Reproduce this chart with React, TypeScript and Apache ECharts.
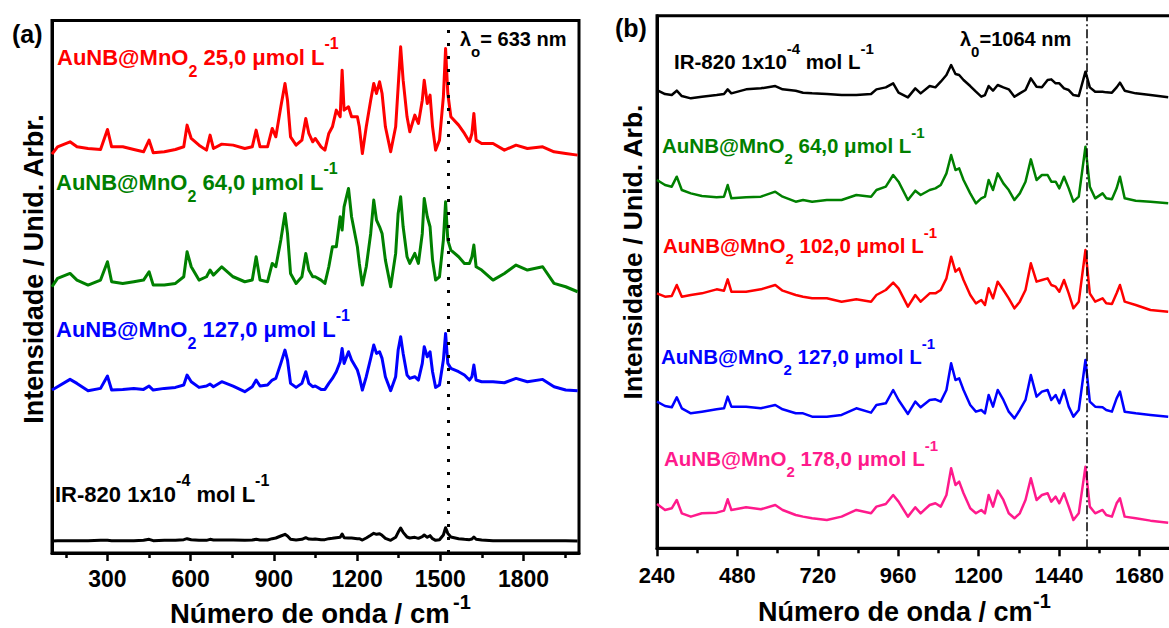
import { useEffect, useRef } from "react";
import * as echarts from "echarts";

// ---------- Panel (a): excitation 633 nm ----------
const WN_A = [100,120,165,190,230, 275,300,315,355,395, 430,450,465,505,545, 575,587,602,630,657, 670,682,712,753,795, 822,836,850,877,894, 907,925,940,949,960, 980,1001,1015,1026,1040, 1049,1070,1084,1098,1111, 1125,1139,1146,1153,1169, 1180,1201,1208,1219,1233, 1249,1260,1270,1281,1290, 1302,1321,1339,1348,1357, 1366,1380,1390,1408,1421, 1435,1442,1453,1463,1472, 1483,1497,1511,1519,1527, 1538,1566,1587,1605,1614, 1621,1629,1649,1690,1731, 1773,1814,1869,1910,1952, 1995];
const RED_A = [1197,1219,1234,1219,1214, 1211,1271,1219,1219,1211, 1204,1239,1201,1204,1211, 1219,1284,1244,1224,1209, 1254,1214,1227,1224,1214, 1219,1269,1219,1219,1274, 1249,1339,1409,1359,1249, 1224,1239,1304,1259,1234, 1244,1219,1209,1259,1279, 1329,1309,1449,1329,1339, 1309,1309,1279,1199,1279, 1359,1409,1379,1414,1379, 1279,1204,1279,1399,1519, 1419,1309,1264,1314,1289, 1359,1419,1349,1374,1279, 1209,1239,1369,1514,1379, 1309,1284,1259,1234,1259, 1319,1239,1229,1229,1209, 1224,1214,1219,1204,1199, 1194];
const GREEN_A = [799,824,839,819,804, 819,874,814,809,814, 819,844,804,804,809, 829,904,859,819,829, 849,834,859,829,814, 819,889,819,814,869, 859,939,1019,959,839, 809,829,899,849,829, 829,819,809,859,919, 919,1009,969,1039,1094, 1009,919,869,804,859, 959,1059,999,979,959, 879,799,899,1019,1069, 979,889,869,899,869, 959,1064,1009,979,879, 819,829,939,1054,939, 909,889,869,869,889, 924,859,849,819,839, 864,849,859,809,799, 784];
const BLUE_A = [489,499,521,509,487, 494,531,489,491,494, 491,501,489,494,497, 504,534,514,497,501, 507,499,514,501,484, 499,519,501,504,519, 524,569,609,579,509, 497,509,544,509,499, 501,491,491,509,524, 544,574,614,569,604, 579,549,529,489,529, 584,624,599,604,584, 529,487,529,609,649, 599,534,524,529,519, 569,619,589,604,544, 497,504,579,659,569, 554,544,534,519,529, 564,519,514,514,511, 524,514,521,499,489, 487];
const BLACK_A = [36,37,37,37,37, 38,38,37,37,37, 38,41,37,38,38, 40,43,40,38,38, 41,39,39,39,38, 39,41,39,39,43, 45,51,56,51,41, 39,41,46,42,41, 42,40,40,43,44, 46,47,57,46,45, 45,43,43,39,45, 53,59,56,58,53, 44,38,47,62,75, 62,48,45,47,44, 49,54,47,52,43, 38,40,54,76,59, 48,43,41,40,42, 48,41,39,37,37, 37,37,37,37,37, 36];
const MAJOR_A = [300, 600, 900, 1200, 1500, 1800];
const MINOR_A = [150, 450, 750, 1050, 1350, 1650, 1950];
const LAMBDA_LINE_A = 1527;

// ---------- Panel (b): excitation 1064 nm ----------
const WN_B = [240,264,284,299,314, 341,374,418,440,451, 462,506,550,593,615, 654,676,703,747,791, 835,879,895,923,945, 961,989,1011,1027,1054, 1071,1087,1104,1118,1131, 1142,1155,1175,1192,1208, 1219,1230,1243,1257,1274, 1290,1307,1323,1340,1356, 1373,1389,1406,1417,1430, 1441,1455,1469,1483,1499, 1519,1532,1548,1570,1581, 1598,1612,1622,1636,1669, 1713,1766];
const BLACK_B = [1375,1363,1360,1373,1357, 1350,1355,1360,1363,1377, 1365,1377,1380,1387,1377, 1373,1367,1365,1363,1360, 1360,1363,1377,1383,1395, 1367,1353,1380,1365,1387, 1383,1400,1420,1450,1423, 1420,1405,1387,1370,1355, 1360,1387,1373,1390,1383, 1377,1355,1365,1375,1410, 1385,1383,1405,1407,1395, 1395,1380,1375,1360,1357, 1430,1383,1370,1370,1368, 1367,1383,1397,1373,1365, 1360,1353];
const GREEN_B = [1105,1090,1085,1115,1075, 1065,1057,1053,1055,1090, 1050,1053,1055,1070,1055, 1040,1045,1040,1045,1045, 1060,1055,1075,1085,1120, 1100,1045,1073,1060,1075, 1080,1090,1125,1180,1135, 1140,1105,1065,1035,1050, 1055,1105,1075,1125,1095, 1075,1045,1065,1100,1167, 1105,1120,1120,1100,1100, 1080,1115,1080,1040,1055, 1205,1085,1050,1065,1050, 1047,1080,1115,1050,1043, 1040,1035];
const RED_B = [765,755,757,790,755, 760,765,777,773,807, 770,770,777,790,773, 760,755,750,750,740, 747,740,760,775,797, 780,725,760,740,765, 765,775,810,875,830, 840,805,760,735,745, 730,780,750,800,775, 750,720,740,775,855, 800,805,810,790,785, 770,805,765,720,740, 895,765,740,750,735, 733,765,790,740,730, 715,710];
const BLUE_B = [440,427,423,453,420, 405,410,417,420,455, 425,425,420,430,417, 405,405,395,395,400, 420,407,430,435,475, 445,403,440,423,445, 447,440,475,555,505, 510,475,430,410,415, 405,460,425,475,445, 410,390,415,445,520, 455,470,475,445,460, 435,475,425,395,415, 565,440,425,423,415, 410,450,470,410,405, 400,395];
const PINK_B = [133,115,120,145,105, 95,105,107,113,147, 115,123,117,130,115, 100,95,90,85,95, 115,105,125,133,160, 140,95,123,105,130, 135,125,160,240,190, 200,165,120,105,115, 105,160,125,173,145, 105,90,105,145,210, 145,160,165,140,155, 135,165,125,85,105, 245,125,105,115,100, 95,135,150,95,90, 83,77];
const LAMBDA_LINE_B = 1522;

const Y_MAX = 1598;
const FONT = "'Liberation Sans', Arial, Helvetica, sans-serif";
const C_RED = "#ff0000";
const C_GREEN = "#008000";
const C_BLUE = "#0000ff";
const C_BLACK = "#000000";
const C_PINK = "#ff1a8c";

function zip(xs: number[], ys: number[]) {
  return xs.map((x, i) => [x, ys[i]]);
}

function richStyles(color: string, size: number, small: number) {
  const base = { fill: color, fontWeight: "bold", fontFamily: FONT };
  return {
    m: { ...base, fontSize: size, lineHeight: Math.round(size * 2) },
    sub: { ...base, fontSize: small, verticalAlign: "bottom", lineHeight: Math.round(size * 1.3) },
    sup: { ...base, fontSize: small, verticalAlign: "top", lineHeight: Math.round(size * 0.75) },
  };
}

function richText(x: number, y: number, text: string, color: string, size: number, small: number) {
  return {
    type: "text",
    x,
    y,
    silent: true,
    style: {
      text,
      rich: richStyles(color, size, small),
      align: "left",
      verticalAlign: "middle",
      fill: color,
      fontSize: size,
      fontWeight: "bold",
      fontFamily: FONT,
    },
  };
}

function plainText(x: number, y: number, text: string, size: number, rotation = 0, align = "left") {
  return {
    type: "text",
    x,
    y,
    rotation,
    silent: true,
    style: {
      text,
      align,
      verticalAlign: "middle",
      fill: "#000",
      fontSize: size,
      fontWeight: "bold",
      fontFamily: FONT,
    },
  };
}

const auLabel = (conc: string) => `{m|AuNB@MnO}{sub|2}{m| ${conc} μmol L}{sup|-1}`;
const irLabel = `{m|IR-820 1x10}{sup|-4}{m| mol L}{sup|-1}`;

function lineSeries(name: string, xi: number, yi: number, xs: number[], ys: number[], color: string, width: number, extra: any = {}) {
  return {
    name,
    type: "line",
    xAxisIndex: xi,
    yAxisIndex: yi,
    data: zip(xs, ys),
    showSymbol: false,
    symbol: "none",
    silent: true,
    lineStyle: { color, width, join: "round" },
    itemStyle: { color },
    ...extra,
  };
}

const plainNum = (v: number) => String(v);

export default function App() {
  const ref = useRef<HTMLDivElement>(null);

  useEffect(() => {
    if (!ref.current) return;
    const chart = echarts.init(ref.current, null, { renderer: "svg" });
    const tickStyle = { color: "#000", width: 2.5 };
    const option: any = {
      animation: false,
      backgroundColor: "#ffffff",
      grid: [
        { left: 52, top: 20.5, width: 527, height: 532.5, show: true, borderColor: "#000", borderWidth: 3, containLabel: false, outerBoundsMode: "none" },
        { left: 657, top: 15.7, width: 522.6, height: 532.6, show: true, borderColor: "#000", borderWidth: 3, containLabel: false, outerBoundsMode: "none" },
      ],
      xAxis: [
        {
          gridIndex: 0, type: "value", min: 100, max: 2000, position: "bottom",
          axisLine: { show: true, onZero: false, lineStyle: { color: "#000", width: 3 } },
          axisTick: { show: true, customValues: MAJOR_A, length: 8, lineStyle: tickStyle },
          axisLabel: { customValues: MAJOR_A, formatter: plainNum, color: "#000", fontSize: 23, fontWeight: "bold", fontFamily: FONT, margin: 14 },
          splitLine: { show: false },
        },
        {
          gridIndex: 0, type: "value", min: 100, max: 2000, position: "bottom",
          axisLine: { show: false, onZero: false },
          axisTick: { show: true, customValues: MINOR_A, length: 5, lineStyle: tickStyle },
          axisLabel: { show: false },
          splitLine: { show: false },
        },
        {
          gridIndex: 1, type: "value", min: 240, max: 1800, interval: 240, position: "bottom",
          axisLine: { show: true, onZero: false, lineStyle: { color: "#000", width: 3 } },
          axisTick: { show: true, length: 8, lineStyle: tickStyle },
          minorTick: { show: true, splitNumber: 2, length: 5, lineStyle: tickStyle },
          axisLabel: { formatter: plainNum, color: "#000", fontSize: 22, fontWeight: "bold", fontFamily: FONT, margin: 16, showMaxLabel: false },
          splitLine: { show: false },
        },
      ],
      yAxis: [
        {
          gridIndex: 0, type: "value", min: 0, max: Y_MAX,
          axisLine: { show: true, onZero: false, lineStyle: { color: "#000", width: 3 } },
          axisTick: { show: false }, axisLabel: { show: false }, splitLine: { show: false },
        },
        {
          gridIndex: 1, type: "value", min: 0, max: Y_MAX,
          axisLine: { show: true, onZero: false, lineStyle: { color: "#000", width: 3 } },
          axisTick: { show: false }, axisLabel: { show: false }, splitLine: { show: false },
        },
      ],
      series: [
        lineSeries("IR-820 (633 nm)", 0, 0, WN_A, BLACK_A, C_BLACK, 3, {
          markLine: {
            silent: true,
            symbol: ["none", "none"],
            label: { show: false },
            lineStyle: { color: "#000", type: [3, 10], width: 3 },
            data: [{ xAxis: LAMBDA_LINE_A }],
          },
        }),
        lineSeries("AuNB@MnO2 127,0 (633 nm)", 0, 0, WN_A, BLUE_A, C_BLUE, 3),
        lineSeries("AuNB@MnO2 64,0 (633 nm)", 0, 0, WN_A, GREEN_A, C_GREEN, 3),
        lineSeries("AuNB@MnO2 25,0 (633 nm)", 0, 0, WN_A, RED_A, C_RED, 3),
        lineSeries("IR-820 (1064 nm)", 2, 1, WN_B, BLACK_B, C_BLACK, 2.5, {
          markLine: {
            silent: true,
            symbol: ["none", "none"],
            label: { show: false },
            lineStyle: { color: "#000", type: [9, 3, 2, 3], width: 1.5 },
            data: [{ xAxis: LAMBDA_LINE_B }],
          },
        }),
        lineSeries("AuNB@MnO2 64,0 (1064 nm)", 2, 1, WN_B, GREEN_B, C_GREEN, 2.5),
        lineSeries("AuNB@MnO2 102,0 (1064 nm)", 2, 1, WN_B, RED_B, C_RED, 2.5),
        lineSeries("AuNB@MnO2 127,0 (1064 nm)", 2, 1, WN_B, BLUE_B, C_BLUE, 2.5),
        lineSeries("AuNB@MnO2 178,0 (1064 nm)", 2, 1, WN_B, PINK_B, C_PINK, 2.5),
      ],
      graphic: [
        plainText(12, 34, "(a)", 25),
        plainText(615, 28, "(b)", 25),
        // panel (a) labels
        richText(57, 57, auLabel("25,0"), C_RED, 22, 16),
        richText(56, 182, auLabel("64,0"), C_GREEN, 22, 16),
        richText(56, 329, auLabel("127,0"), C_BLUE, 22, 16),
        richText(55, 494, irLabel, C_BLACK, 22, 16),
        richText(460, 39, "{m|λ}{sub|o}{m|= 633 nm}", C_BLACK, 20, 15),
        // panel (b) labels
        richText(674, 61, irLabel, C_BLACK, 20.5, 15),
        richText(662, 145, auLabel("64,0"), C_GREEN, 20.5, 15),
        richText(663, 245, auLabel("102,0"), C_RED, 20.5, 15),
        richText(661, 356, auLabel("127,0"), C_BLUE, 20.5, 15),
        richText(664, 458, auLabel("178,0"), C_PINK, 20.5, 15),
        richText(960, 39, "{m|λ}{sub|0}{m|=1064 nm}", C_BLACK, 20, 15),
        // axis titles
        plainText(170, 613, "Número de onda / cm", 27.5, 0, "left"),
        plainText(453, 602, "-1", 20, 0, "left"),
        plainText(758, 612, "Número de onda / cm", 27, 0, "left"),
        plainText(1033, 601, "-1", 20, 0, "left"),
        plainText(34, 269, "Intensidade / Unid. Arbr.", 27, Math.PI / 2, "center"),
        plainText(633, 252, "Intensidade / Unid. Arb.", 26.5, Math.PI / 2, "center"),
      ],
    };
    chart.setOption(option);
    return () => chart.dispose();
  }, []);

  return (
    <div
      ref={ref}
      style={{ position: "absolute", left: 0, top: 0, width: 1169, height: 628, background: "#fff" }}
    />
  );
}
